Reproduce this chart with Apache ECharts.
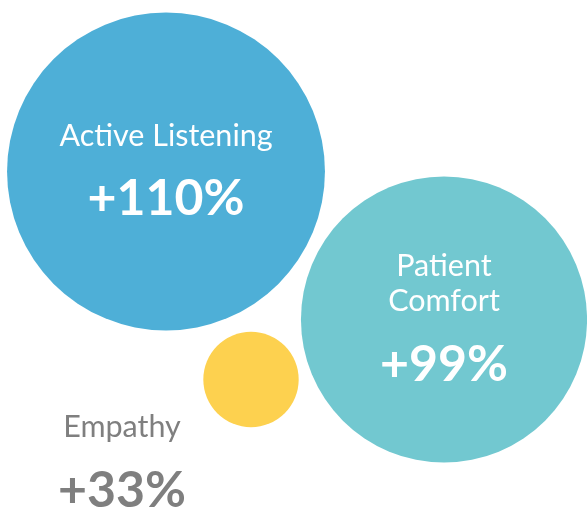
<!DOCTYPE html>
<html>
<head>
<meta charset="utf-8">
<script src="https://cdn.jsdelivr.net/npm/echarts@6/dist/echarts.min.js"></script>
<style>
  html, body { margin: 0; padding: 0; background: #fff; }
  #chart { width: 587px; height: 507px; }
</style>
</head>
<body>
<div id="chart"></div>
<script>
// bubble data: radius is proportional to the gain
const names = ['Active Listening', 'Patient\nComfort', 'Empathy'];
const gains = [110, 99, 33];
const posX = [166, 444, 251];
const posY = [171.5, 319.5, 379.5];
const colors = ['#4eafd7', '#72c8d0', '#fdd14f'];

const chart = echarts.init(document.getElementById('chart'));

const textStyles = {
  n: { fontSize: 30.5, lineHeight: 35, fontFamily: 'Lato' },
  v: { fontSize: 50, lineHeight: 91, fontWeight: 'bold', fontFamily: 'Lato' }
};

const data = names.map((name, i) => {
  const outside = i === 2;
  return {
    name: name,
    value: [posX[i], posY[i], gains[i]],
    itemStyle: { color: colors[i], opacity: 1 },
    label: {
      show: true,
      position: 'inside',
      offset: outside ? [-129, 93.5] : [0, 10],
      color: outside ? '#7f7f7f' : '#fff',
      formatter: () => '{n|' + name.split('\n').join('}\n{n|') + '}\n{v|+' + gains[i] + '%}',
      rich: textStyles
    }
  };
});

chart.setOption({
  animation: false,
  grid: { left: 0, right: 0, top: 0, bottom: 0 },
  xAxis: { type: 'value', min: 0, max: 587, show: false },
  yAxis: { type: 'value', min: 0, max: 507, inverse: true, show: false },
  series: [{
    type: 'scatter',
    data: data,
    symbolSize: (val) => val[2] * 2.89,
    itemStyle: { opacity: 1 },
    emphasis: { disabled: true },
    silent: true
  }]
});
</script>
</body>
</html>
